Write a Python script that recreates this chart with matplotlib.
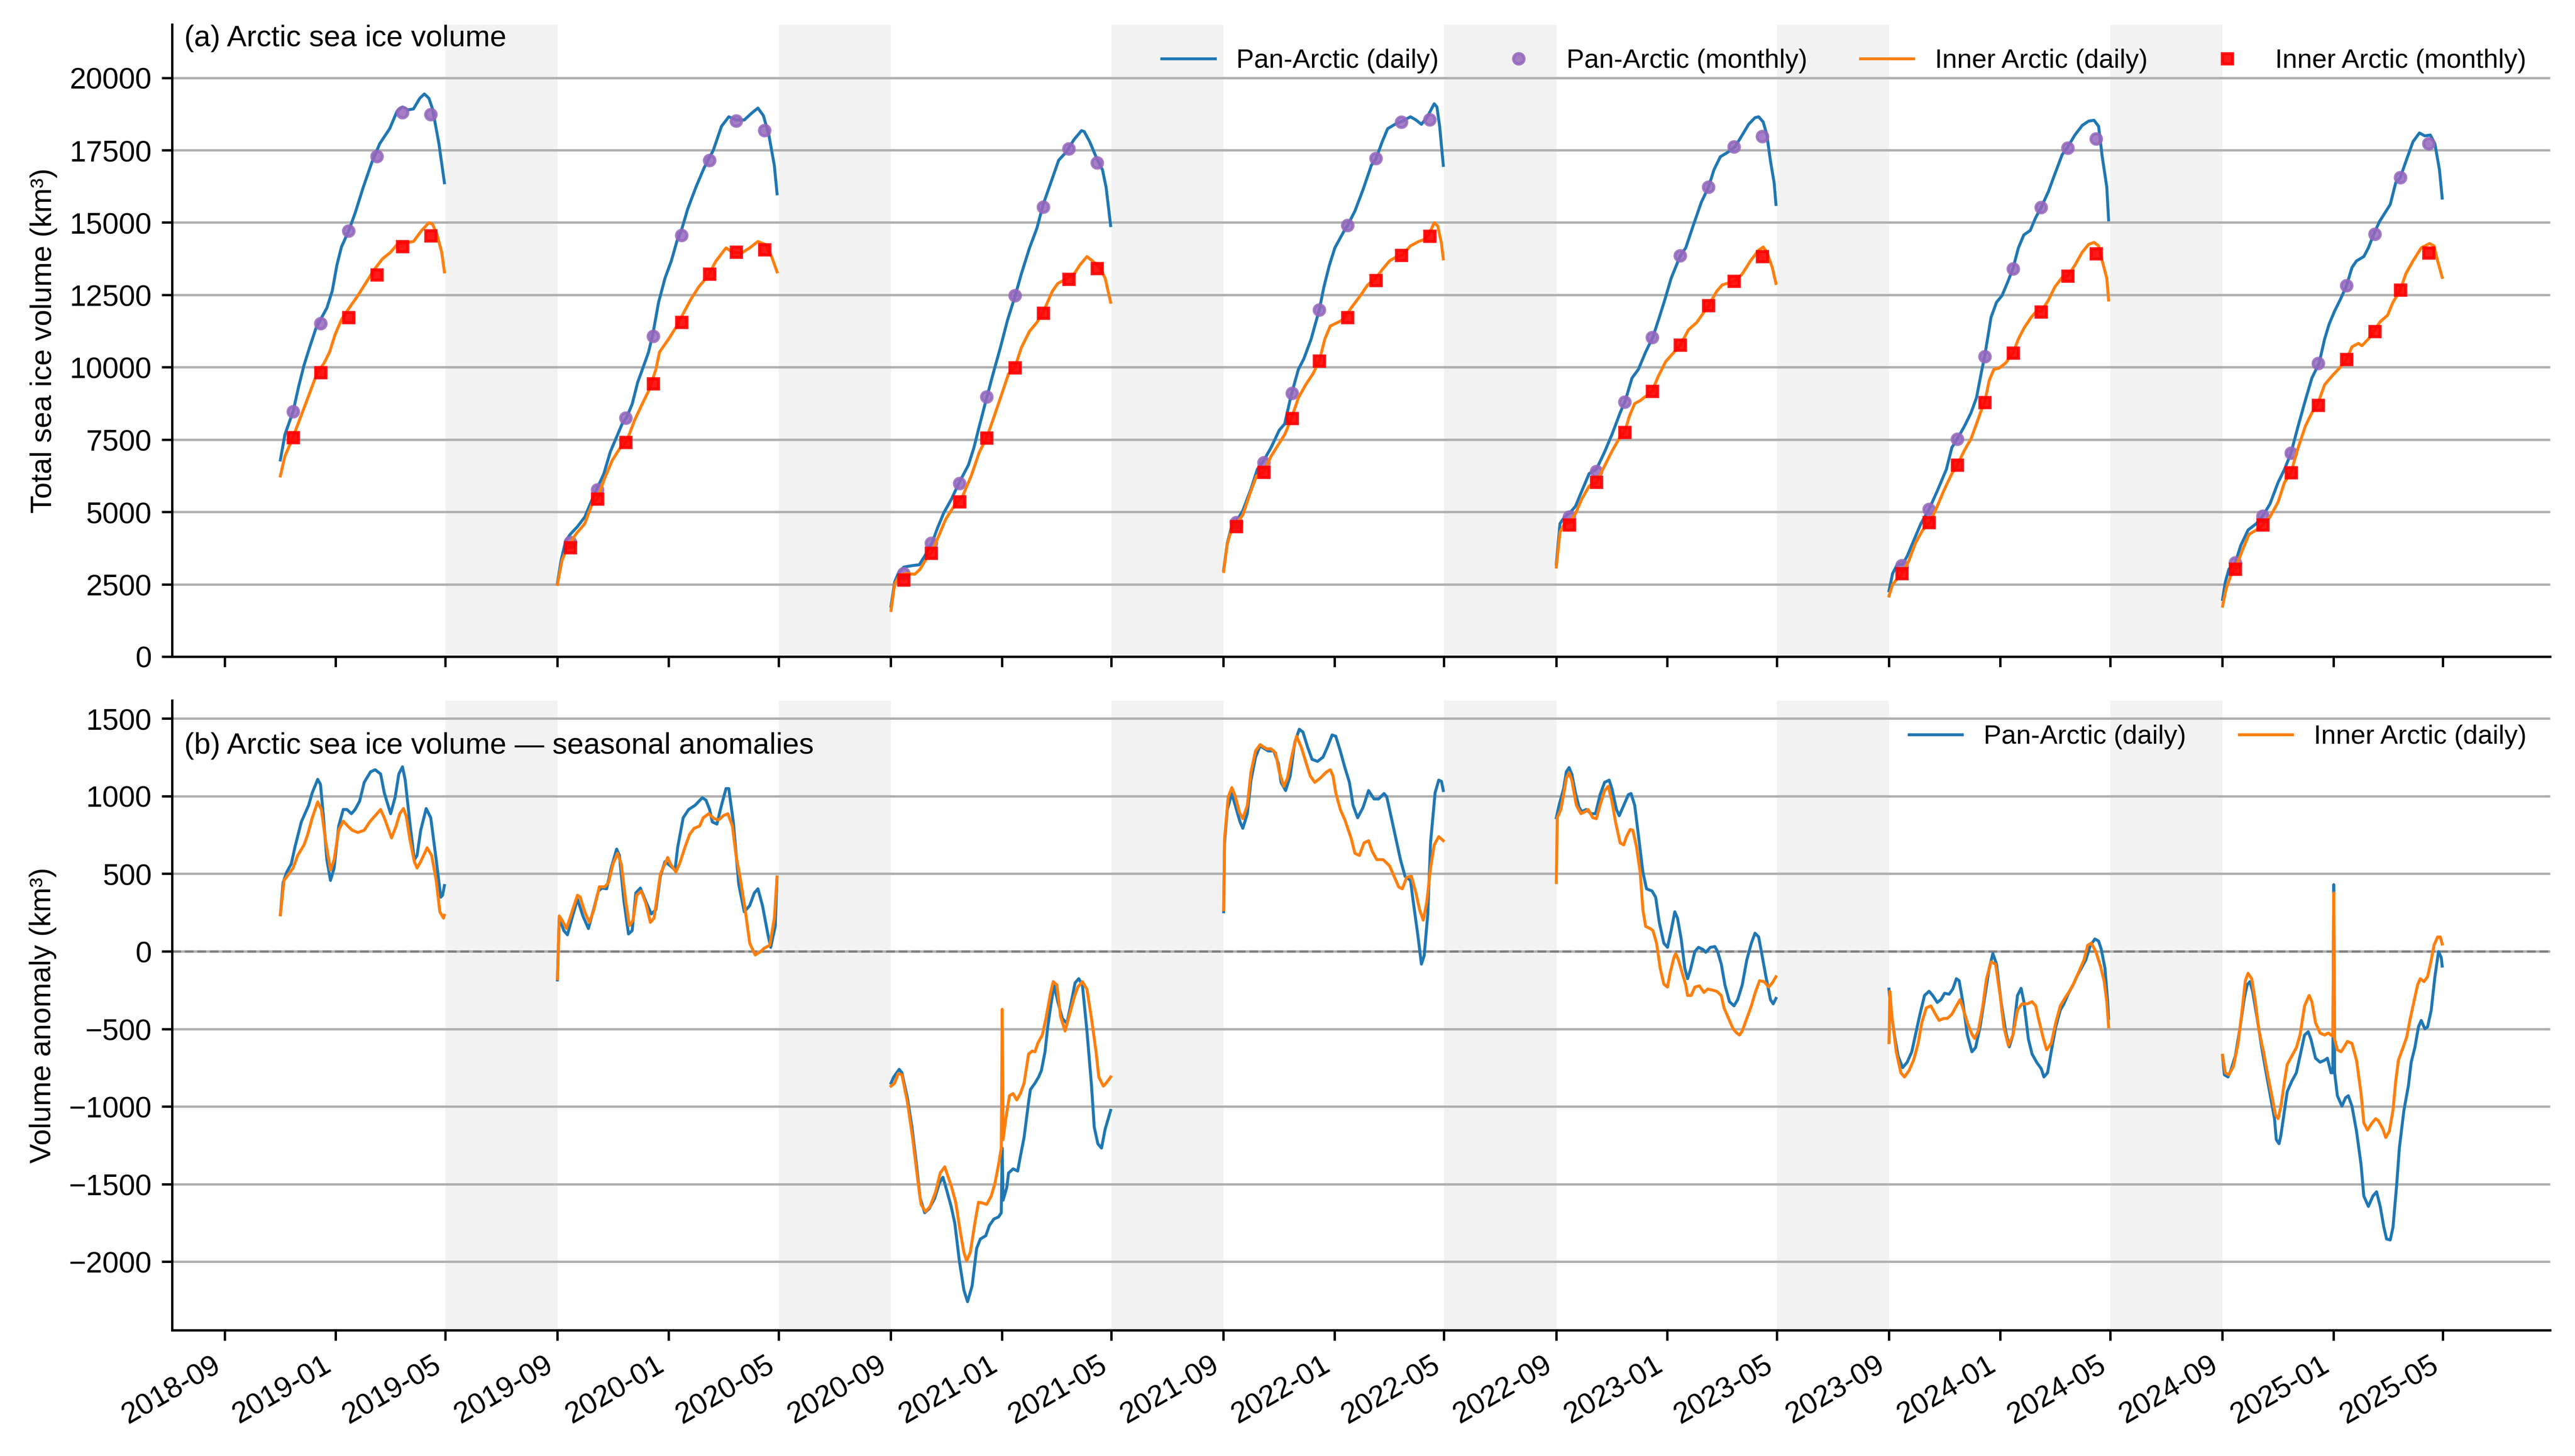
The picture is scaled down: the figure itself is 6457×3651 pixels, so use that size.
import numpy as np
import pandas as pd
import matplotlib
matplotlib.use("Agg")
import matplotlib.pyplot as plt
import matplotlib.dates as mdates

plt.rcParams["font.family"] = ["Liberation Sans", "DejaVu Sans"]

# ==============================
# data: (day since 1 Sep of season start, km3)
# ==============================
SEASON_START = ["2018-09-01", "2019-09-01", "2020-09-01", "2021-09-01",
                "2022-09-01", "2023-09-01", "2024-09-01"]

# --- Pan-Arctic daily volume
PAN_2019 = [(61, 6800), (66, 7680), (75, 8480), (81, 9330), (87, 10080), (93, 10680), (100, 11350),
            (105, 11650), (112, 12050), (118, 12650), (123, 13530), (128, 14160), (136, 14720),
            (143, 15330), (152, 16230), (161, 17050), (170, 17730), (181, 18250), (189, 18850),
            (195, 19000), (201, 18900), (207, 18930), (214, 19300), (219, 19450), (224, 19300),
            (228, 18930), (235, 17730), (239, 16830), (241, 16380)]
PAN_2020 = [(0, 2550), (4, 3330), (9, 4000), (14, 4230), (22, 4500), (30, 4830), (38, 5430), (44, 5850),
            (51, 6330), (58, 7080), (65, 7600), (71, 8050), (76, 8280), (82, 8730), (88, 9480),
            (94, 10000), (100, 10530), (105, 11200), (111, 12250), (118, 13080), (125, 13680),
            (131, 14350), (136, 14730), (143, 15480), (152, 16230), (161, 16900), (171, 17500),
            (180, 18330), (188, 18660), (196, 18550), (205, 18550), (214, 18810), (220, 18960),
            (226, 18700), (232, 18030), (238, 16980), (241, 16000)]
PAN_2021 = [(0, 1750), (4, 2580), (8, 2880), (14, 3100), (23, 3150), (31, 3180), (37, 3480), (45, 3930),
            (51, 4450), (58, 4980), (66, 5430), (75, 6030), (85, 6630), (91, 7230), (97, 7980),
            (105, 8950), (112, 9780), (120, 10680), (128, 11650), (136, 12450), (143, 13230),
            (152, 14130), (160, 14800), (167, 15630), (177, 16530), (184, 17160), (192, 17430),
            (201, 17880), (209, 18180), (212, 18150), (218, 17800), (226, 17200), (232, 16830),
            (236, 16230), (241, 14900)]
PAN_2022 = [(0, 3000), (4, 3930), (9, 4530), (14, 4680), (21, 5050), (30, 5800), (37, 6480), (44, 6780),
            (52, 7230), (61, 7830), (67, 8050), (74, 9030), (82, 9930), (88, 10300), (96, 10980),
            (105, 12000), (110, 12780), (116, 13530), (122, 14130), (131, 14650), (136, 14910),
            (144, 15400), (153, 16150), (162, 16980), (167, 17200), (174, 17800), (180, 18250),
            (188, 18400), (196, 18510), (205, 18660), (211, 18550), (217, 18400), (223, 18630),
            (231, 19110), (234, 19000), (237, 18330), (241, 16980)]
PAN_2023 = [(0, 3200), (4, 4600), (9, 4830), (15, 4980), (21, 5200), (28, 5730), (36, 6330), (44, 6480),
            (53, 7080), (61, 7680), (70, 8430), (76, 8880), (83, 9630), (90, 9930), (98, 10530),
            (106, 11050), (113, 11730), (119, 12330), (126, 13080), (136, 13860), (142, 14130),
            (150, 14880), (159, 15700), (167, 16230), (173, 16830), (180, 17280), (188, 17430),
            (196, 17620), (204, 18030), (211, 18400), (218, 18630), (222, 18660), (227, 18480),
            (231, 18030), (235, 17130), (239, 16380), (241, 15630)]
PAN_2024 = [(0, 2280), (4, 2880), (9, 3180), (15, 3200), (20, 3480), (28, 4080), (35, 4600), (44, 5100),
            (53, 5730), (63, 6480), (69, 7230), (75, 7530), (83, 7980), (90, 8430), (96, 8950),
            (102, 9930), (105, 10380), (112, 11730), (118, 12250), (124, 12480), (130, 12930),
            (136, 13410), (142, 14130), (148, 14580), (155, 14730), (161, 15180), (167, 15525),
            (175, 16080), (182, 16680), (190, 17350), (196, 17610), (204, 18030), (212, 18360),
            (219, 18510), (225, 18540), (230, 18330), (234, 17280), (239, 16230), (241, 15100)]
PAN_2025 = [(0, 1980), (3, 2580), (7, 3030), (14, 3250), (20, 3850), (28, 4380), (37, 4600), (44, 4860),
            (52, 5280), (61, 6030), (68, 6480), (75, 7030), (83, 7980), (91, 8880), (98, 9630),
            (106, 10150), (112, 10980), (117, 11500), (123, 11950), (129, 12330), (136, 12820),
            (142, 13450), (147, 13680), (155, 13830), (160, 14130), (166, 14610), (172, 15030),
            (178, 15330), (184, 15630), (190, 16380), (195, 16560), (203, 17280), (209, 17800),
            (216, 18100), (222, 18000), (228, 18030), (233, 17730), (238, 16830), (241, 15850)]

# --- Inner Arctic daily volume
INNER_2019 = [(61, 6250), (66, 6930), (75, 7600), (84, 8350), (93, 9100), (101, 9780), (109, 10150),
              (115, 10530), (121, 11130), (128, 11650), (136, 12030), (146, 12480), (155, 12930),
              (164, 13380), (173, 13750), (182, 13980), (190, 14280), (198, 14300), (207, 14350),
              (216, 14730), (224, 15000), (228, 14950), (233, 14580), (238, 13980), (241, 13300)]
INNER_2020 = [(0, 2500), (5, 3330), (11, 3780), (20, 4230), (30, 4600), (38, 5280), (44, 5460),
              (51, 6100), (60, 6780), (69, 7230), (76, 7450), (85, 8200), (94, 8800), (101, 9250),
              (108, 9930), (112, 10530), (122, 10980), (131, 11430), (137, 11800), (146, 12330),
              (155, 12780), (165, 13150), (174, 13680), (185, 14130), (192, 13980), (202, 13950),
              (211, 14130), (220, 14350), (228, 14250), (235, 13830), (241, 13300)]
INNER_2021 = [(0, 1600), (4, 2500), (9, 2800), (17, 2880), (26, 2850), (32, 3030), (39, 3400),
              (45, 3630), (52, 4150), (60, 4750), (69, 5200), (79, 5580), (88, 6250), (97, 7080),
              (105, 7570), (112, 8200), (121, 9030), (129, 9780), (136, 10000), (143, 10680),
              (152, 11250), (160, 11550), (167, 11910), (177, 12630), (183, 12900), (192, 13050),
              (201, 13230), (207, 13530), (215, 13830), (221, 13680), (229, 13450), (235, 13080),
              (241, 12250)]
INNER_2022 = [(0, 2950), (4, 3900), (9, 4450), (14, 4600), (21, 4900), (29, 5650), (36, 6250),
              (44, 6380), (52, 6930), (61, 7380), (67, 7680), (74, 8200), (82, 8950), (90, 9400),
              (98, 9780), (105, 10230), (111, 10980), (117, 11430), (125, 11550), (131, 11650),
              (140, 12060), (150, 12480), (158, 12850), (167, 13080), (174, 13380), (182, 13680),
              (190, 13830), (196, 13880), (205, 14200), (214, 14350), (221, 14430), (226, 14650),
              (231, 15000), (235, 14880), (239, 14280), (241, 13750)]
INNER_2023 = [(0, 3100), (4, 4300), (9, 4600), (15, 4650), (21, 4950), (28, 5450), (36, 5900),
              (44, 6030), (53, 6600), (61, 7100), (70, 7600), (75, 7760), (80, 8300), (86, 8750),
              (92, 8850), (98, 9000), (105, 9180), (112, 9700), (120, 10200), (136, 10770),
              (145, 11300), (154, 11550), (167, 12135), (176, 12630), (182, 12850), (196, 12980),
              (204, 13230), (213, 13680), (222, 14050), (227, 14160), (231, 13980), (237, 13450),
              (241, 12900)]
INNER_2024 = [(0, 2100), (4, 2500), (10, 2730), (15, 2880), (22, 3330), (29, 3930), (37, 4380),
              (45, 4650), (52, 5130), (60, 5730), (69, 6330), (75, 6630), (83, 7150), (90, 7530),
              (96, 8050), (102, 8580), (105, 8790), (110, 9550), (115, 9930), (121, 9980),
              (128, 10150), (136, 10500), (142, 10980), (148, 11350), (156, 11730), (162, 11950),
              (167, 11930), (175, 12330), (182, 12780), (190, 13110), (196, 13150), (204, 13530),
              (212, 13980), (219, 14250), (225, 14320), (230, 14200), (234, 13680), (239, 13080),
              (241, 12330)]
INNER_2025 = [(0, 1750), (4, 2350), (9, 2800), (14, 3030), (22, 3700), (29, 4230), (37, 4380),
              (44, 4560), (52, 4830), (61, 5350), (68, 6030), (75, 6360), (83, 7230), (91, 7980),
              (98, 8430), (104, 8700), (112, 9400), (120, 9700), (129, 10000), (136, 10270),
              (142, 10710), (149, 10830), (153, 10750), (160, 10980), (166, 11250), (173, 11580),
              (181, 11800), (187, 12250), (195, 12670), (201, 13230), (209, 13680), (218, 14130),
              (227, 14280), (232, 14200), (236, 13680), (241, 13110)]

# --- monthly means (mid-month), Sep..Apr (first season Nov..Apr)
PAN_M_2019 = [8480, 11520, 14720, 17300, 18810, 18740]
PAN_M_2020 = [3960, 5775, 8250, 11085, 14565, 17160, 18525, 18195]
PAN_M_2021 = [2880, 3930, 6000, 8985, 12480, 15540, 17550, 17070]
PAN_M_2022 = [4650, 6705, 9105, 11985, 14910, 17220, 18480, 18555]
PAN_M_2023 = [4830, 6405, 8805, 11040, 13860, 16230, 17625, 17985]
PAN_M_2024 = [3150, 5100, 7530, 10380, 13410, 15525, 17580, 17895]
PAN_M_2025 = [3255, 4860, 7035, 10140, 12825, 14610, 16560, 17730]

INNER_M_2019 = [7580, 9830, 11730, 13200, 14180, 14550]
INNER_M_2020 = [3780, 5460, 7410, 9435, 11565, 13230, 13980, 14070]
INNER_M_2021 = [2655, 3585, 5355, 7560, 9990, 11880, 13050, 13425]
INNER_M_2022 = [4500, 6375, 8235, 10230, 11730, 13005, 13875, 14535]
INNER_M_2023 = [4560, 6030, 7755, 9180, 10770, 12135, 12975, 13830]
INNER_M_2024 = [2880, 4650, 6630, 8790, 10500, 11925, 13155, 13935]
INNER_M_2025 = [3030, 4560, 6360, 8700, 10275, 11250, 12675, 13965]

# --- seasonal anomalies (daily)
PAN_ANOM_2019 = [(61, 237), (64, 444), (68, 512), (73, 565), (77, 673), (84, 835), (92, 942), (96, 1023),
                 (102, 1109), (105, 1077), (108, 888), (112, 592), (116, 458), (120, 538), (125, 808),
                 (130, 915), (134, 915), (139, 888), (143, 915), (148, 969), (153, 1090), (160, 1158),
                 (165, 1171), (171, 1144), (175, 1023), (182, 888), (187, 996), (191, 1144), (195, 1190),
                 (198, 1104), (203, 835), (208, 592), (211, 619), (215, 781), (221, 921), (226, 862),
                 (232, 592), (237, 350), (239, 363), (241, 425)]
PAN_ANOM_2020 = [(0, -183), (2, 215), (7, 135), (11, 108), (16, 215), (22, 337), (28, 229), (34, 148),
                 (39, 256), (45, 390), (49, 409), (54, 404), (59, 538), (65, 660), (68, 619), (73, 323),
                 (78, 113), (82, 135), (86, 377), (91, 409), (97, 323), (103, 242), (108, 269), (113, 485),
                 (118, 579), (124, 552), (129, 525), (132, 673), (138, 862), (144, 915), (151, 942),
                 (159, 991), (163, 975), (167, 915), (170, 835), (175, 821), (180, 942), (185, 1050),
                 (188, 1050), (193, 835), (199, 431), (205, 256), (211, 296), (216, 377), (220, 404),
                 (225, 296), (231, 108), (234, 27), (239, 162), (241, 480)]
PAN_ANOM_2021 = [(0, -848), (3, -808), (9, -759), (12, -781), (18, -942), (23, -1131), (28, -1373),
                 (32, -1589), (37, -1683), (42, -1656), (48, -1589), (53, -1494), (57, -1454),
                 (61, -1535), (66, -1642), (70, -1750), (75, -1992), (80, -2181), (84, -2256),
                 (89, -2154), (94, -1912), (98, -1852), (104, -1831), (108, -1764), (113, -1723),
                 (118, -1710), (121, -1683), (122, -1266), (123, -1602), (127, -1521), (129, -1427),
                 (134, -1400), (139, -1414), (142, -1319), (146, -1198), (151, -969), (153, -889),
                 (158, -848), (162, -808), (165, -767), (169, -646), (172, -485), (176, -323),
                 (179, -215), (183, -323), (188, -431), (193, -463), (197, -350), (202, -202),
                 (206, -175), (210, -215), (215, -512), (220, -862), (223, -1131), (227, -1239),
                 (231, -1266), (235, -1144), (241, -1023)]
PAN_ANOM_2022 = [(0, 256), (1, 700), (4, 915), (9, 1018), (14, 915), (18, 835), (21, 794), (26, 888),
                 (30, 1104), (35, 1252), (40, 1325), (45, 1306), (49, 1292), (55, 1292), (60, 1212),
                 (63, 1090), (68, 1037), (73, 1131), (78, 1346), (83, 1432), (87, 1414), (92, 1319),
                 (97, 1238), (103, 1225), (109, 1252), (114, 1319), (119, 1395), (123, 1387),
                 (128, 1292), (133, 1185), (138, 1090), (142, 942), (147, 862), (153, 929), (159, 1037),
                 (165, 983), (170, 983), (176, 1018), (179, 996), (184, 862), (189, 727), (194, 592),
                 (199, 485), (205, 458), (208, 323), (213, 108), (217, -81), (220, -27), (224, 242),
                 (227, 700), (232, 1023), (236, 1104), (239, 1096), (241, 1037)]
PAN_ANOM_2023 = [(0, 862), (3, 942), (8, 1050), (11, 1158), (14, 1185), (17, 1144), (21, 1023), (25, 929),
                 (28, 902), (33, 915), (38, 888), (43, 888), (48, 1010), (53, 1090), (58, 1104),
                 (61, 1050), (66, 915), (69, 875), (74, 942), (79, 1010), (82, 1018), (86, 942),
                 (90, 754), (95, 512), (99, 404), (105, 390), (109, 350), (113, 188), (118, 54),
                 (122, 27), (126, 135), (130, 256), (133, 215), (137, 81), (141, -108), (144, -175),
                 (147, -121), (152, 0), (156, 27), (161, 13), (164, -5), (169, 27), (174, 32), (177, 0),
                 (181, -81), (185, -215), (190, -323), (195, -350), (199, -310), (204, -215), (209, -54),
                 (214, 54), (218, 118), (222, 94), (225, 0), (230, -162), (235, -310), (238, -337),
                 (241, -302)]
PAN_ANOM_2024 = [(0, -242), (2, -377), (6, -538), (10, -673), (15, -748), (20, -713), (25, -646),
                 (29, -538), (34, -404), (39, -283), (44, -256), (48, -283), (53, -328), (57, -310),
                 (61, -269), (66, -275), (70, -242), (74, -175), (77, -188), (81, -323), (86, -538),
                 (91, -646), (95, -619), (100, -485), (105, -296), (110, -108), (114, -13), (118, -81),
                 (123, -323), (128, -512), (132, -614), (136, -538), (141, -283), (145, -237),
                 (148, -323), (153, -565), (157, -660), (162, -713), (167, -754), (170, -808),
                 (174, -781), (178, -646), (183, -485), (188, -377), (192, -337), (197, -269),
                 (202, -215), (206, -162), (211, -108), (216, -54), (221, 40), (226, 81), (230, 67),
                 (233, 13), (237, -108), (240, -323), (241, -430)]
PAN_ANOM_2025 = [(0, -673), (2, -794), (6, -808), (9, -767), (14, -673), (19, -498), (24, -296),
                 (27, -215), (30, -194), (33, -256), (38, -431), (43, -619), (47, -754), (52, -915),
                 (57, -1077), (59, -1212), (62, -1238), (64, -1185), (68, -1023), (71, -902), (76, -835),
                 (81, -781), (85, -673), (90, -538), (94, -517), (97, -565), (102, -687), (107, -713),
                 (112, -700), (115, -687), (119, -781), (121, -781), (122, 431), (123, -781),
                 (126, -929), (131, -996), (135, -942), (138, -929), (142, -996), (147, -1158),
                 (152, -1373), (155, -1575), (160, -1642), (165, -1575), (169, -1548), (173, -1642),
                 (177, -1777), (180, -1852), (184, -1858), (187, -1777), (191, -1508), (194, -1266),
                 (199, -1023), (204, -862), (207, -713), (211, -619), (215, -485), (218, -444),
                 (222, -498), (225, -485), (229, -377), (233, -162), (237, 0), (240, -40), (241, -94)]

INNER_ANOM_2019 = [(61, 237), (65, 458), (70, 498), (75, 538), (80, 619), (87, 687), (91, 754),
                   (96, 862), (102, 964), (106, 915), (111, 700), (116, 525), (120, 592), (125, 781),
                   (130, 840), (135, 808), (140, 781), (146, 767), (153, 781), (159, 835), (165, 875),
                   (171, 915), (175, 862), (180, 781), (183, 732), (188, 808), (192, 888), (196, 921),
                   (199, 875), (203, 727), (208, 579), (211, 538), (215, 579), (222, 668), (227, 619),
                   (232, 458), (236, 256), (240, 215), (241, 234)]
INNER_ANOM_2020 = [(0, -175), (2, 229), (5, 202), (10, 148), (16, 256), (22, 363), (25, 350), (30, 256),
                   (35, 188), (40, 269), (46, 417), (52, 417), (56, 444), (61, 565), (66, 633), (70, 565),
                   (75, 323), (79, 167), (83, 202), (87, 363), (92, 390), (97, 310), (102, 188),
                   (106, 215), (113, 498), (121, 606), (124, 565), (130, 512), (134, 565), (140, 673),
                   (145, 754), (150, 794), (156, 808), (160, 862), (166, 888), (172, 856), (177, 848),
                   (182, 875), (187, 888), (192, 808), (196, 619), (201, 458), (206, 269), (211, 54),
                   (217, -22), (223, 0), (227, 22), (233, 40), (238, 215), (241, 479)]
INNER_ANOM_2021 = [(0, -867), (4, -848), (8, -786), (12, -794), (18, -969), (24, -1212), (29, -1454),
                   (33, -1629), (38, -1675), (43, -1642), (49, -1548), (54, -1427), (59, -1387),
                   (62, -1440), (66, -1508), (71, -1615), (76, -1804), (80, -1939), (83, -1992),
                   (87, -1939), (92, -1750), (96, -1615), (101, -1621), (105, -1629), (110, -1575),
                   (114, -1494), (118, -1373), (121, -1266), (122, -372), (123, -1212), (126, -1077),
                   (130, -929), (134, -915), (138, -956), (142, -915), (146, -848), (151, -660),
                   (155, -641), (158, -646), (161, -592), (166, -538), (170, -431), (175, -269),
                   (178, -194), (182, -215), (186, -417), (191, -512), (196, -404), (201, -296),
                   (205, -229), (210, -194), (215, -242), (220, -431), (225, -646), (228, -808),
                   (233, -867), (236, -848), (241, -808)]
INNER_ANOM_2022 = [(0, 269), (1, 727), (5, 996), (9, 1056), (13, 996), (17, 902), (21, 856), (26, 942),
                   (30, 1158), (35, 1292), (40, 1333), (47, 1306), (52, 1306), (57, 1279), (61, 1158),
                   (66, 1064), (70, 1117), (75, 1265), (80, 1387), (85, 1319), (90, 1225), (95, 1131),
                   (100, 1090), (106, 1117), (113, 1158), (117, 1171), (120, 1131), (123, 1023),
                   (128, 915), (133, 848), (140, 727), (144, 633), (149, 619), (154, 700), (159, 714),
                   (163, 646), (168, 592), (175, 592), (182, 552), (187, 485), (192, 417), (196, 404),
                   (201, 479), (206, 485), (211, 377), (215, 269), (219, 202), (223, 323), (227, 538),
                   (231, 687), (236, 740), (241, 714)]
INNER_ANOM_2023 = [(0, 444), (1, 862), (5, 915), (8, 1010), (11, 1117), (14, 1152), (17, 1104),
                   (22, 942), (27, 888), (32, 902), (35, 915), (40, 862), (44, 856), (48, 942),
                   (53, 1037), (57, 1064), (61, 969), (65, 835), (70, 700), (74, 687), (77, 740),
                   (81, 786), (84, 781), (88, 673), (92, 512), (95, 269), (98, 162), (103, 148),
                   (106, 135), (110, 54), (114, -108), (118, -210), (122, -229), (125, -135), (129, -40),
                   (131, -13), (134, -54), (138, -135), (142, -215), (144, -283), (148, -283),
                   (152, -229), (157, -221), (162, -264), (166, -242), (171, -248), (176, -256),
                   (181, -283), (184, -363), (189, -431), (194, -498), (198, -525), (201, -538),
                   (204, -512), (209, -431), (214, -350), (218, -269), (223, -188), (228, -194),
                   (233, -229), (237, -202), (241, -162)]
INNER_ANOM_2024 = [(0, -587), (1, -256), (3, -404), (8, -646), (13, -781), (17, -808), (22, -767),
                   (27, -700), (32, -592), (36, -458), (41, -363), (46, -350), (51, -404), (55, -444),
                   (60, -431), (64, -431), (69, -404), (74, -350), (78, -310), (81, -363), (86, -458),
                   (91, -533), (94, -560), (98, -512), (103, -350), (107, -175), (112, -67), (117, -81),
                   (122, -283), (126, -485), (131, -606), (136, -538), (141, -377), (146, -337),
                   (152, -337), (157, -323), (161, -350), (164, -431), (169, -552), (173, -633),
                   (178, -592), (183, -458), (188, -350), (194, -291), (198, -256), (203, -202),
                   (208, -135), (214, -54), (218, 40), (222, 54), (227, 0), (232, -94), (236, -188),
                   (239, -323), (241, -485)]
INNER_ANOM_2025 = [(0, -668), (3, -781), (7, -794), (12, -740), (17, -592), (21, -404), (25, -188),
                   (28, -140), (32, -175), (36, -323), (40, -512), (45, -646), (50, -808), (55, -956),
                   (58, -1050), (61, -1077), (64, -996), (68, -835), (71, -727), (76, -673), (81, -619),
                   (85, -538), (90, -350), (95, -283), (98, -323), (102, -458), (107, -525), (112, -538),
                   (116, -525), (119, -538), (121, -545), (122, 377), (123, -565), (126, -633),
                   (130, -646), (133, -619), (137, -579), (142, -592), (147, -700), (152, -915),
                   (155, -1104), (159, -1150), (164, -1104), (168, -1077), (171, -1090), (176, -1144),
                   (179, -1198), (183, -1158), (187, -1023), (190, -835), (193, -700), (198, -619),
                   (202, -552), (206, -431), (210, -323), (214, -215), (217, -175), (221, -194),
                   (225, -162), (229, -54), (232, 40), (236, 94), (239, 94), (241, 48)]

PAN_DAILY = [PAN_2019, PAN_2020, PAN_2021, PAN_2022, PAN_2023, PAN_2024, PAN_2025]
INNER_DAILY = [INNER_2019, INNER_2020, INNER_2021, INNER_2022, INNER_2023, INNER_2024, INNER_2025]
PAN_MONTHLY = [PAN_M_2019, PAN_M_2020, PAN_M_2021, PAN_M_2022, PAN_M_2023, PAN_M_2024, PAN_M_2025]
INNER_MONTHLY = [INNER_M_2019, INNER_M_2020, INNER_M_2021, INNER_M_2022, INNER_M_2023, INNER_M_2024,
                 INNER_M_2025]
PAN_ANOM = [PAN_ANOM_2019, PAN_ANOM_2020, PAN_ANOM_2021, PAN_ANOM_2022, PAN_ANOM_2023, PAN_ANOM_2024,
            PAN_ANOM_2025]
INNER_ANOM = [INNER_ANOM_2019, INNER_ANOM_2020, INNER_ANOM_2021, INNER_ANOM_2022, INNER_ANOM_2023,
              INNER_ANOM_2024, INNER_ANOM_2025]

C_PAN = "#1f77b4"
C_INNER = "#ff7f0e"
C_PAN_M = "#9467bd"
C_INNER_M = "red"


def series(start, pairs):
    d, v = zip(*pairs)
    return pd.Timestamp(start) + pd.to_timedelta(d, unit="D"), np.array(v)


def monthly_dates(start, values):
    first = pd.Timestamp(start) + pd.DateOffset(months=8 - len(values))
    return pd.date_range(first, periods=len(values), freq="MS") + pd.Timedelta(days=14)


# ==============================
# figure
# ==============================
DPI = 533.33
fig = plt.figure(figsize=(6457 / DPI, 3651 / DPI), dpi=DPI)
ax1 = fig.add_axes([0.0669, 0.5489, 0.9235, 0.4341])
ax2 = fig.add_axes([0.0669, 0.0863, 0.9235, 0.4325], sharex=ax1)

for i, start in enumerate(SEASON_START):
    lab = (i == 0)
    x, y = series(start, PAN_DAILY[i])
    ax1.plot(x, y, color=C_PAN, lw=1.0, zorder=3, label="Pan-Arctic (daily)" if lab else None)
    xm = monthly_dates(start, PAN_MONTHLY[i])
    ax1.plot(xm, PAN_MONTHLY[i], "o", color=C_PAN_M, ms=3.6, alpha=0.85, zorder=4,
             label="Pan-Arctic (monthly)" if lab else None)
    x, y = series(start, INNER_DAILY[i])
    ax1.plot(x, y, color=C_INNER, lw=1.0, zorder=5, label="Inner Arctic (daily)" if lab else None)
    xm = monthly_dates(start, INNER_MONTHLY[i])
    ax1.plot(xm, INNER_MONTHLY[i], "s", color=C_INNER_M, ms=3.6, alpha=0.9, zorder=6,
             label="Inner Arctic (monthly)" if lab else None)

    x, y = series(start, PAN_ANOM[i])
    ax2.plot(x, y, color=C_PAN, lw=1.0, zorder=3, label="Pan-Arctic (daily)" if lab else None)
    x, y = series(start, INNER_ANOM[i])
    ax2.plot(x, y, color=C_INNER, lw=1.0, zorder=4, label="Inner Arctic (daily)" if lab else None)

# summer gaps
for yr in range(2019, 2025):
    for ax in (ax1, ax2):
        ax.axvspan(pd.Timestamp(f"{yr}-05-01"), pd.Timestamp(f"{yr}-09-01"),
                   color="gray", alpha=0.1, lw=0, zorder=0)

ax2.axhline(0, color="gray", ls="--", lw=0.8, zorder=2)

for ax in (ax1, ax2):
    ax.grid(axis="y", color="#b0b0b0", lw=0.8)
    ax.spines["top"].set_visible(False)
    ax.spines["right"].set_visible(False)

ax1.set_ylim(0, 21840)
ax1.set_ylabel("Total sea ice volume (km³)")
ax2.set_ylabel("Volume anomaly (km³)")
ax1.text(0.005, 1.0, "(a) Arctic sea ice volume", transform=ax1.transAxes, va="top", ha="left")
ax2.text(0.005, 0.95, "(b) Arctic sea ice volume — seasonal anomalies", transform=ax2.transAxes,
         va="top", ha="left")

ax1.legend(loc="upper right", ncol=4, frameon=False, fontsize=9)
ax2.legend(loc="upper right", ncol=2, frameon=False, fontsize=9)

ax2.xaxis.set_major_locator(mdates.MonthLocator(bymonth=[1, 5, 9]))
ax2.xaxis.set_major_formatter(mdates.DateFormatter("%Y-%m"))
ax1.tick_params(labelbottom=False)
plt.setp(ax2.get_xticklabels(), rotation=30, ha="right")

fig.savefig("out.png", dpi=DPI)
